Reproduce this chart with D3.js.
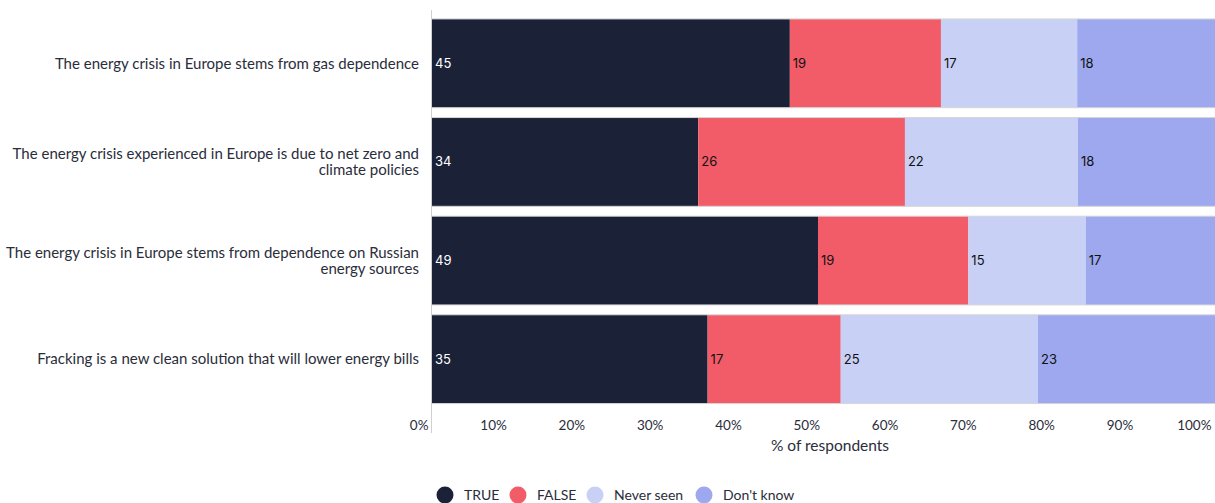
<!DOCTYPE html>
<html>
<head>
<meta charset="utf-8">
<script src="https://cdn.jsdelivr.net/npm/d3@7"></script>
<style>
  html, body { margin: 0; padding: 0; background: #fff; }
  svg { display: block; font-family: Lato, "Open Sans", sans-serif; }
</style>
</head>
<body>
<svg id="chart" width="1215" height="503"></svg>
<script>
// ---- data ----
const categories = [
  "The energy crisis in Europe stems from gas dependence",
  "The energy crisis experienced in Europe is due to net zero and climate policies",
  "The energy crisis in Europe stems from dependence on Russian energy sources",
  "Fracking is a new clean solution that will lower energy bills"
];
const categoryLines = [
  ["The energy crisis in Europe stems from gas dependence"],
  ["The energy crisis experienced in Europe is due to net zero and", "climate policies"],
  ["The energy crisis in Europe stems from dependence on Russian", "energy sources"],
  ["Fracking is a new clean solution that will lower energy bills"]
];
const seriesNames = ["TRUE", "FALSE", "Never seen", "Don't know"];
const trueValues      = [45.7, 34.0, 49.3, 35.2];
const falseValues     = [19.3, 26.4, 19.2, 17.0];
const neverSeenValues = [17.4, 22.1, 15.0, 25.2];
const dontKnowValues  = [17.6, 17.5, 16.5, 22.6];
const trueLabels      = [45, 34, 49, 35];
const falseLabels     = [19, 26, 19, 17];
const neverSeenLabels = [17, 22, 15, 25];
const dontKnowLabels  = [18, 18, 17, 23];
const tickValues = [0, 10, 20, 30, 40, 50, 60, 70, 80, 90, 100];
const tickLabels = ["0%", "10%", "20%", "30%", "40%", "50%", "60%", "70%", "80%", "90%", "100%"];
const axisTitle = "% of respondents";
const colors = ["#1b2238", "#f25c69", "#c9d0f6", "#9da8ef"];
const labelColors = ["#ffffff", "#111111", "#111111", "#111111"];

// ---- build ----
const seriesValues = [trueValues, falseValues, neverSeenValues, dontKnowValues];
const seriesLabels = [trueLabels, falseLabels, neverSeenLabels, dontKnowLabels];
const rows = categories.map((c, i) => {
  const r = { cat: c };
  seriesNames.forEach((s, j) => { r[s] = seriesValues[j][i]; });
  return r;
});
const stacked = d3.stack().keys(seriesNames)(rows);

const svg = d3.select("#chart");
const x = d3.scaleLinear().domain([0, 100]).range([432, 1215]);
const y = d3.scaleBand().domain(categories).range([14, 408.5]).paddingInner(0.1).paddingOuter(0.05);
const color = d3.scaleOrdinal().domain(seriesNames).range(colors);

// axis line
svg.append("line")
  .attr("x1", 431.5).attr("x2", 431.5).attr("y1", 10).attr("y2", 433)
  .attr("stroke", "#d0d0d0").attr("stroke-width", 1);

// bars
const g = svg.append("g");
stacked.forEach((layer, j) => {
  g.selectAll(null).data(layer).enter().append("rect")
    .attr("x", d => x(d[0]))
    .attr("y", (d, i) => y(categories[i]))
    .attr("width", d => x(d[1]) - x(d[0]))
    .attr("height", y.bandwidth())
    .attr("fill", color(seriesNames[j]));
  g.selectAll(null).data(layer).enter().append("text")
    .attr("x", d => x(d[0]) + 3)
    .attr("y", (d, i) => y(categories[i]) + y.bandwidth() / 2)
    .attr("dy", "0.35em")
    .attr("font-size", 13)
    .attr("font-family", "Inter, sans-serif")
    .attr("fill", labelColors[j])
    .text((d, i) => seriesLabels[j][i]);
});
// thin grey outline at top/bottom of each bar row
categories.forEach(c => {
  [y(c), y(c) + y.bandwidth()].forEach(yy => {
    svg.append("line").attr("x1", 432).attr("x2", 1215)
      .attr("y1", yy).attr("y2", yy)
      .attr("stroke", "#d6d6d6").attr("stroke-width", 1);
  });
});

// category labels
categories.forEach((c, i) => {
  const lines = categoryLines[i];
  const cy = y(c) + y.bandwidth() / 2;
  const lh = 16;
  const t = svg.append("text")
    .attr("text-anchor", "end")
    .attr("font-size", 15)
    .attr("fill", "#2a2d3a");
  lines.forEach((ln, k) => {
    t.append("tspan")
      .attr("x", 419)
      .attr("y", cy + (k - (lines.length - 1) / 2) * lh)
      .attr("dy", "0.35em")
      .text(ln);
  });
});

// x axis
const xAxis = d3.axisBottom(x).tickValues(tickValues)
  .tickFormat((d, i) => tickLabels[i]).tickSize(0).tickPadding(0);
const ax = svg.append("g").attr("transform", "translate(0,425)").call(xAxis);
ax.select(".domain").remove();
ax.selectAll("text")
  .attr("text-anchor", "end")
  .attr("dx", -4)
  .attr("dy", "0.35em")
  .attr("y", 0)
  .attr("font-size", 13.5)
  .attr("font-family", "Lato, sans-serif")
  .attr("fill", "#2a2d3a");

svg.append("text")
  .attr("x", 830).attr("y", 446).attr("dy", "0.35em")
  .attr("text-anchor", "middle")
  .attr("font-size", 15.5)
  .attr("fill", "#2a2d3a")
  .text(axisTitle);

// legend
const legendX = [445, 518, 595, 704];
const lg = svg.append("g");
seriesNames.forEach((s, j) => {
  lg.append("circle").attr("cx", legendX[j]).attr("cy", 495).attr("r", 8.5).attr("fill", color(s));
  lg.append("text").attr("x", legendX[j] + 19).attr("y", 495).attr("dy", "0.35em")
    .attr("font-size", 14).attr("fill", "#2a2d3a").text(s);
});
</script>
</body>
</html>
